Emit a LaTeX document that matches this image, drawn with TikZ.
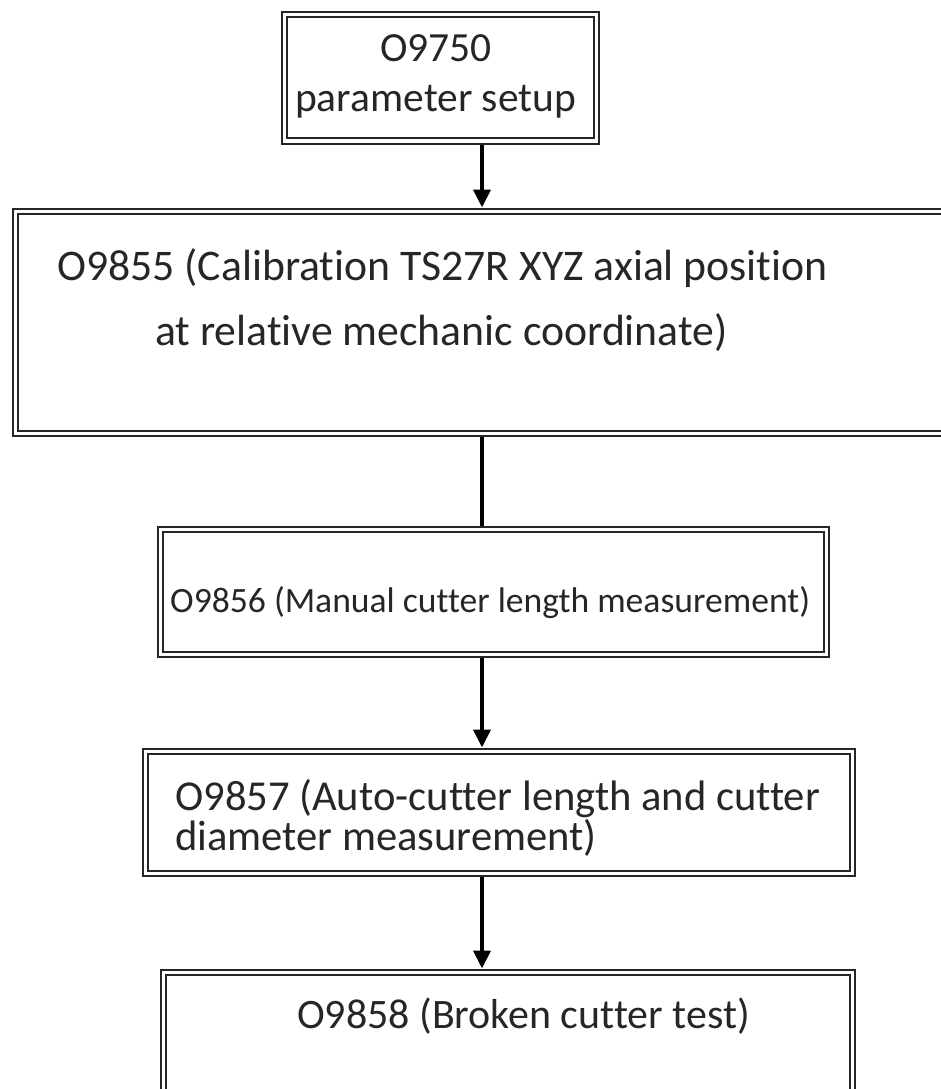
\documentclass[tikz,border=0pt]{standalone}
\usepackage{fontspec}
\setmainfont{Carlito}[Ligatures={NoCommon}]
\usetikzlibrary{arrows.meta}
\begin{document}
\begin{tikzpicture}[x=1pt,y=-1pt,
  box/.style={draw=black!85, double=white, line width=2pt, double distance=3pt, outer sep=3.5pt, inner sep=0pt},
  lbl/.style={anchor=base west, inner sep=0pt, text=black!85},
  link/.style={line width=4pt, draw=black},
  arr/.style={link, -{Triangle[width=17pt,length=18pt]}}]
\useasboundingbox (0,0) rectangle (941,1089);
\clip (0,0) rectangle (941,1089);
% boxes
\node[box, minimum width=312pt, minimum height=126pt] (b1) at (440,78) {};
\node[box, minimum width=945pt, minimum height=222pt] (b2) at (487.5,322) {};
\node[box, minimum width=666pt, minimum height=125pt] (b3) at (493.5,592) {};
\node[box, minimum width=707pt, minimum height=122pt] (b4) at (498.5,812) {};
\node[box, minimum width=689pt, minimum height=138pt] (b5) at (507.5,1041) {};
% connectors
\draw[arr] (482,0 |- b1.south) -- (482,0 |- b2.north);
\draw[link] (482,0 |- b2.south) -- (482,0 |- b3.north);
\draw[arr] (482,0 |- b3.south) -- (482,0 |- b4.north);
\draw[arr] (482,0 |- b4.south) -- (482,0 |- b5.north);
% texts
\node[lbl, font=\fontsize{41.5}{49}\selectfont] (t1a) at (380,62) {O9750};
\node[lbl, font=\fontsize{41.5}{49}\selectfont] (t1b) at (295,112) {parameter setup};
\node[lbl, font=\fontsize{43.7}{52}\selectfont] (t2a) at (57,280) {O9855 (Calibration TS27R XYZ axial position};
\node[lbl, font=\fontsize{43.7}{52}\selectfont] (t2b) at (155,345) {at relative mechanic coordinate)};
\node[lbl, font=\fontsize{35.6}{42}\selectfont] (t3) at (170,612) {O9856 (Manual cutter length measurement)};
\node[lbl, font=\fontsize{42.6}{50}\selectfont] (t4a) at (175,810) {O9857 (Auto-cutter length and cutter};
\node[lbl, font=\fontsize{42.6}{50}\selectfont] (t4b) at (175,850) {diameter measurement)};
\node[lbl, font=\fontsize{41.9}{49}\selectfont] (t5) at (297,1028) {O9858 (Broken cutter test)};
\end{tikzpicture}
\end{document}
